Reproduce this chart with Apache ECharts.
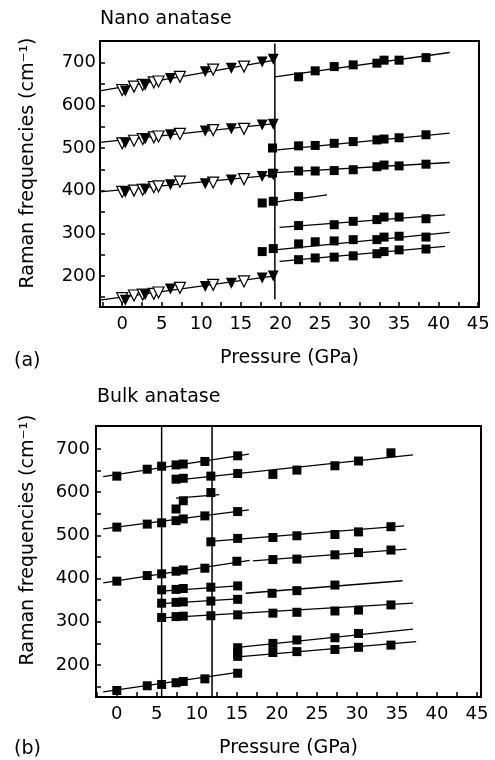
<!DOCTYPE html>
<html>
<head>
<meta charset="utf-8">
<script src="https://cdn.jsdelivr.net/npm/echarts@6.0.0/dist/echarts.min.js"></script>
<style>
  html, body { margin: 0; padding: 0; background: #fff; }
  #chart { width: 495px; height: 760px; }
</style>
</head>
<body>
<div id="chart"></div>
<script>
  // tick / label values
  var xTicks = [-2.5, 0, 2.5, 5, 7.5, 10, 12.5, 15, 17.5, 20, 22.5, 25, 27.5, 30, 32.5, 35, 37.5, 40, 42.5, 45]
  var xLabels = [0, 5, 10, 15, 20, 25, 30, 35, 40, 45]
  var yTicks = [150, 200, 250, 300, 350, 400, 450, 500, 550, 600, 650, 700]
  var yLabels = [200, 300, 400, 500, 600, 700]

  // (a) nano anatase, below transition: open / filled triangles [P, freq]
  var nanoOpen1 = [[0, 636], [1.5, 644], [2.6, 648], [4.0, 654], [4.6, 656], [7.3, 667], [11.5, 684], [15.4, 691]]
  var nanoFill1 = [[0.4, 634], [2.9, 647], [6.1, 663], [10.5, 679], [13.8, 687], [17.7, 702], [19.1, 708]]
  var nanoOpen2 = [[0, 511], [1.5, 517], [2.6, 521], [4.0, 525], [4.6, 527], [7.3, 533], [11.5, 542], [15.4, 545]]
  var nanoFill2 = [[0.4, 512], [2.9, 521], [6.1, 531], [10.5, 540], [13.8, 545], [17.7, 554], [19.1, 556]]
  var nanoOpen3 = [[0, 397], [1.5, 400], [2.6, 402], [4.0, 408], [4.6, 410], [7.3, 421], [11.5, 419], [15.4, 427]]
  var nanoFill3 = [[0.4, 396], [2.9, 403], [6.1, 414], [10.5, 416], [13.8, 425], [17.7, 433], [19.1, 437]]
  var nanoOpen4 = [[0, 148], [1.5, 154], [2.6, 156], [4.0, 158], [4.6, 161], [7.3, 172], [11.5, 179], [15.4, 187]]
  var nanoFill4 = [[0.4, 143], [2.9, 156], [6.1, 169], [10.5, 175], [13.8, 183], [17.7, 195], [19.1, 200]]
  var nanoTriFits = [
    [[-2.8, 634], [19.3, 706]],
    [[-2.8, 513], [19.3, 557]],
    [[-2.8, 397], [19.3, 437]],
    [[-2.8, 143], [19.3, 200]]
  ]

  // (a) high pressure phase: squares
  var nanoSq1 = [[22.3, 667], [24.4, 681], [26.8, 691], [29.2, 695], [32.2, 699], [33.1, 706], [35.0, 706], [38.4, 712]]
  var nanoSq2 = [[19.0, 500], [22.3, 505], [24.4, 506], [26.8, 511], [29.2, 515], [32.2, 519], [33.1, 521], [35.0, 524], [38.4, 531]]
  var nanoSq3 = [[19.0, 441], [22.3, 446], [24.4, 446], [26.8, 447], [29.2, 449], [32.2, 456], [33.1, 460], [35.0, 458], [38.4, 462]]
  var nanoSq4 = [[17.7, 371], [19.1, 375], [22.3, 386]]
  var nanoSq5 = [[22.3, 318], [26.8, 320], [29.2, 328], [32.2, 332], [33.1, 338], [35.0, 338], [38.4, 334]]
  var nanoSq6 = [[17.7, 257], [19.1, 264], [22.3, 275], [24.4, 280], [26.8, 282], [29.2, 285], [32.2, 285], [33.1, 291], [35.0, 293], [38.4, 291]]
  var nanoSq7 = [[22.3, 238], [24.4, 242], [26.8, 244], [29.2, 247], [32.2, 252], [33.1, 257], [35.0, 261], [38.4, 263]]
  var nanoSqFits = [
    [[19.3, 667], [41.4, 724]],
    [[19.3, 495], [41.4, 535]],
    [[19.3, 442], [41.4, 466]],
    [[19.3, 373], [25.9, 390]],
    [[19.9, 314], [40.8, 343]],
    [[19.3, 261], [41.4, 302]],
    [[19.9, 234], [40.8, 269]]
  ]
  var nanoTransition = [[19.3, 745], [19.3, 145]]

  // (b) bulk anatase: squares
  var bulk1 = [[0, 637], [3.8, 653], [5.6, 660], [7.4, 663], [8.3, 665], [11.0, 671], [15.1, 684]]
  var bulk2 = [[7.4, 630], [8.3, 632], [11.75, 637], [15.1, 643], [19.5, 641], [22.5, 651], [27.25, 661], [30.2, 672], [34.25, 691]]
  var bulk3 = [[7.4, 561], [8.3, 580], [11.75, 599]]
  var bulk4 = [[0, 519], [3.8, 526], [5.6, 529], [7.4, 534], [8.3, 538], [11.0, 545], [15.1, 555]]
  var bulk5 = [[11.75, 485], [15.1, 493], [19.5, 495], [22.5, 499], [27.25, 502], [30.2, 508], [34.25, 520]]
  var bulk6 = [[0, 394], [3.8, 407], [5.6, 411], [7.4, 417], [8.3, 420], [11.0, 424], [15.0, 440]]
  var bulk7 = [[19.5, 444], [22.5, 445], [27.25, 455], [30.2, 460], [34.25, 466]]
  var bulk8 = [[5.6, 374], [7.4, 375], [8.3, 377], [11.75, 380], [15.1, 383]]
  var bulk9 = [[19.4, 366], [22.5, 372], [27.25, 385]]
  var bulk10 = [[5.6, 343], [7.4, 345], [8.3, 346], [11.75, 348], [15.1, 352]]
  var bulk11 = [[5.6, 310], [7.4, 312], [8.3, 313], [11.75, 314], [15.1, 316], [19.5, 320], [22.5, 322], [27.25, 325], [30.2, 327], [34.25, 339]]
  var bulk12 = [[15.1, 240], [19.5, 250], [22.5, 258], [27.25, 263], [30.2, 273]]
  var bulk13 = [[15.1, 228], [15.1, 220], [19.5, 229], [22.5, 231], [27.25, 236], [30.2, 241], [34.25, 246]]
  var bulk14 = [[0, 141], [3.8, 152], [5.6, 155], [7.4, 159], [8.3, 162], [11.0, 168], [15.1, 181]]
  var bulkFits = [
    [[-1.7, 636], [16.5, 688]],
    [[7.4, 628], [37, 686]],
    [[7.4, 586], [12.8, 594]],
    [[-1.7, 515], [16.5, 559]],
    [[11.75, 486], [35.9, 522]],
    [[-1.7, 390], [16.6, 442]],
    [[17, 441], [36.2, 468]],
    [[5.6, 371], [15.1, 383]],
    [[16.1, 366], [35.7, 395]],
    [[5.6, 342], [15.1, 353]],
    [[5.6, 309], [37, 343]],
    [[15.1, 241], [37, 283]],
    [[15.1, 219], [37.4, 254]],
    [[-1.7, 138], [15.1, 183]]
  ]
  var bulkTransitions = [
    [[5.6, 126], [5.6, 753]],
    [[11.9, 126], [11.9, 753]]
  ]

  var FONT = 'DejaVu Sans'

  function xAxisFor (gi, min, max) {
    return {
      type: 'value', gridIndex: gi, min: min, max: max,
      axisLine: { onZero: false, lineStyle: { color: '#000', width: 2 } },
      axisTick: { inside: true, length: 5, customValues: xTicks, lineStyle: { color: '#000', width: 1.5 } },
      axisLabel: { customValues: xLabels, margin: 8, color: '#000', fontSize: 18, fontFamily: FONT },
      splitLine: { show: false },
      name: 'Pressure (GPa)', nameLocation: 'middle', nameGap: 42,
      nameTextStyle: { color: '#000', fontSize: 19, fontFamily: FONT }
    }
  }
  function yAxisFor (gi, min, max, margin) {
    return {
      type: 'value', gridIndex: gi, min: min, max: max,
      axisLine: { onZero: false, lineStyle: { color: '#000', width: 2 } },
      axisTick: { inside: true, length: 5, customValues: yTicks, lineStyle: { color: '#000', width: 1.5 } },
      axisLabel: { customValues: yLabels, margin: margin, color: '#000', fontSize: 18, fontFamily: FONT },
      splitLine: { show: false }
    }
  }
  function markers (data, gi, shape, filled, size) {
    return {
      type: 'scatter', xAxisIndex: gi, yAxisIndex: gi, data: data, z: 5,
      symbol: shape, symbolSize: size, symbolRotate: shape === 'triangle' ? 180 : 0,
      itemStyle: { color: filled ? '#000' : '#fff', borderColor: '#000', borderWidth: filled ? 0 : 1.2, opacity: 1 },
      silent: true
    }
  }
  function fit (data, gi, width) {
    return {
      type: 'line', xAxisIndex: gi, yAxisIndex: gi, data: data, z: 3,
      symbol: 'none', lineStyle: { color: '#000', width: width || 1.3 }, silent: true
    }
  }

  var series = []
  ;[nanoOpen1, nanoOpen2, nanoOpen3, nanoOpen4].forEach(function (d) { series.push(markers(d, 0, 'triangle', false, 11)) })
  ;[nanoFill1, nanoFill2, nanoFill3, nanoFill4].forEach(function (d) { series.push(markers(d, 0, 'triangle', true, 11)) })
  ;[nanoSq1, nanoSq2, nanoSq3, nanoSq4, nanoSq5, nanoSq6, nanoSq7].forEach(function (d) { series.push(markers(d, 0, 'rect', true, 9)) })
  nanoTriFits.concat(nanoSqFits).forEach(function (d) { series.push(fit(d, 0)) })
  series.push(fit(nanoTransition, 0, 1.5))
  ;[bulk1, bulk2, bulk3, bulk4, bulk5, bulk6, bulk7, bulk8, bulk9, bulk10, bulk11, bulk12, bulk13, bulk14].forEach(function (d) {
    series.push(markers(d, 1, 'rect', true, 9))
  })
  bulkFits.forEach(function (d) { series.push(fit(d, 1)) })
  bulkTransitions.forEach(function (d) { series.push(fit(d, 1, 1.5)) })

  var yName = 'Raman frequencies (cm\u207B\u00B9)'
  var titleStyle = { color: '#000', fontSize: 19, fontWeight: 'normal', fontFamily: FONT }
  var chart = echarts.init(document.getElementById('chart'), null, { renderer: 'canvas' })
  chart.setOption({
    animation: false,
    backgroundColor: '#fff',
    title: [
      { text: 'Nano anatase', left: 100, top: 10, padding: 0, textStyle: titleStyle },
      { text: 'Bulk anatase', left: 97, top: 388, padding: 0, textStyle: titleStyle }
    ],
    grid: [
      { left: 100, top: 41, right: 16, height: 266, show: true, borderColor: '#000', borderWidth: 2 },
      { left: 96, top: 426, right: 14, height: 271, show: true, borderColor: '#000', borderWidth: 2 }
    ],
    xAxis: [xAxisFor(0, -2.8, 45.1), xAxisFor(1, -2.6, 45.5)],
    yAxis: [yAxisFor(0, 127, 751, 4), yAxisFor(1, 126, 753, 6)],
    graphic: [
      { type: 'text', x: 28, y: 163, rotation: Math.PI / 2, style: { text: yName, font: '19px "' + FONT + '"', fill: '#000', align: 'center', verticalAlign: 'middle' } },
      { type: 'text', x: 28, y: 540, rotation: Math.PI / 2, style: { text: yName, font: '19px "' + FONT + '"', fill: '#000', align: 'center', verticalAlign: 'middle' } },
      { type: 'text', x: 14, y: 361, style: { text: '(a)', font: '19px "' + FONT + '"', fill: '#000', verticalAlign: 'middle' } },
      { type: 'text', x: 14, y: 749, style: { text: '(b)', font: '19px "' + FONT + '"', fill: '#000', verticalAlign: 'middle' } }
    ],
    series: series
  })
</script>
</body>
</html>
